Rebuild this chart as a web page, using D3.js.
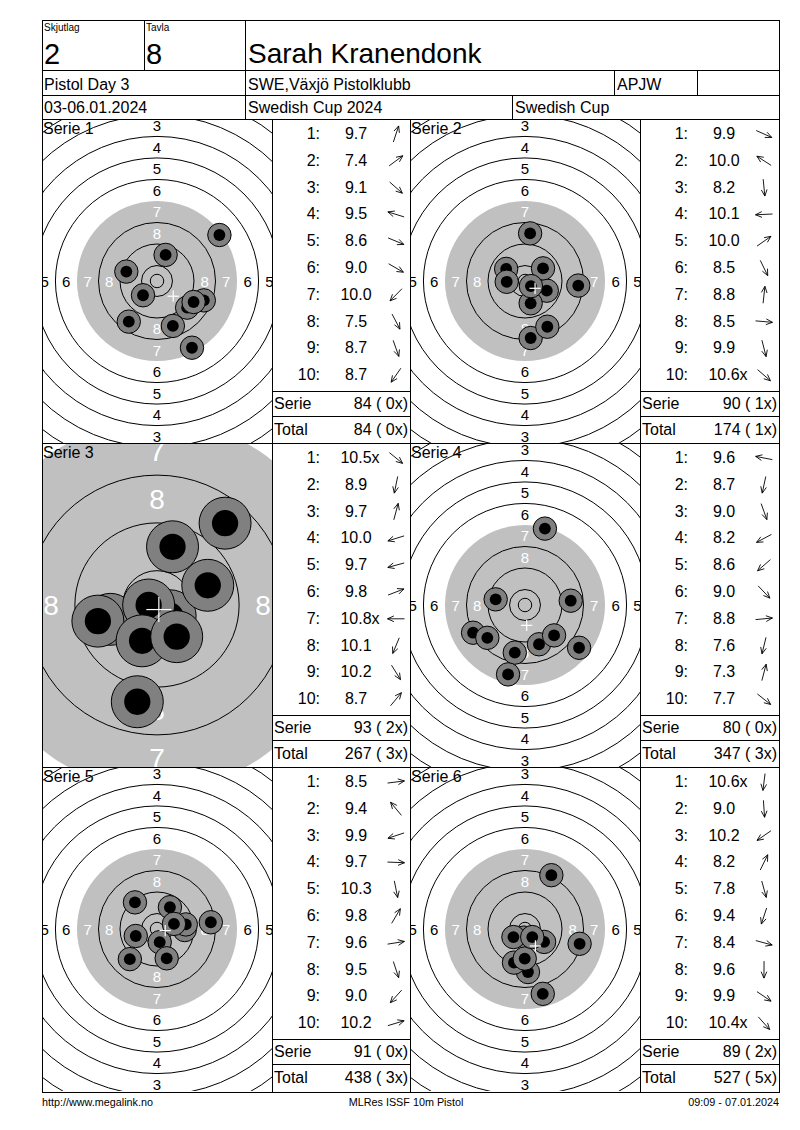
<!DOCTYPE html>
<html><head><meta charset="utf-8">
<script src="https://cdn.jsdelivr.net/npm/d3@7"></script>
<style>
body{margin:0;background:#fff}
text{font-family:"Liberation Sans",Arial,sans-serif;white-space:pre}
</style>
</head><body>
<svg id="c" width="800" height="1130"></svg>
<script>
// ---------- data ----------
const squadLabel = "Skjutlag", squadValue = "2";
const laneLabel = "Tavla", laneValue = "8";
const shooterName = "Sarah Kranendonk";
const eventName = "Pistol Day 3", clubName = "SWE,Växjö Pistolklubb", classCode = "APJW";
const dateText = "03-06.01.2024", competitionName = "Swedish Cup 2024", cupName = "Swedish Cup";
const footerLeft = "http://www.megalink.no", footerMid = "MLRes ISSF 10m Pistol", footerRight = "09:09 - 07.01.2024";

const seriesNames = ["Serie 1","Serie 2","Serie 3","Serie 4","Serie 5","Serie 6"];
const seriesZoom = [1, 1, 2.22, 1, 1, 1];
const shotScores = [
  ["9.7","7.4","9.1","9.5","8.6","9.0","10.0","7.5","8.7","8.7"],
  ["9.9","10.0","8.2","10.1","10.0","8.5","8.8","8.5","9.9","10.6x"],
  ["10.5x","8.9","9.7","10.0","9.7","9.8","10.8x","10.1","10.2","8.7"],
  ["9.6","8.7","9.0","8.2","8.6","9.0","8.8","7.6","7.3","7.7"],
  ["8.5","9.4","9.9","9.7","10.3","9.8","9.6","9.5","9.0","10.2"],
  ["10.6x","9.0","10.2","8.2","7.8","9.4","8.4","9.6","9.9","10.4x"]
];
// shot positions in mm from target centre (x right, y up)
const shotX = [
  [3.2, 23.2, 11.2, -11.4, 17.4, 13.6, -5.2, 13.0, 5.9, -10.5],
  [8.1, -7.0, 2.1, -6.8, 6.7, 8.3, 1.9, 19.8, 2.1, 2.2],
  [2.2, -3.3, 2.6, -7.8, -9.9, 8.5, -1.4, -2.5, 3.3, 11.4],
  [-10.9, -3.8, 5.2, -19.3, -14.0, 10.8, 17.0, -6.3, 7.4, 20.1],
  [20.0, -8.2, -7.9, 10.3, 1.0, 4.8, 10.7, 3.6, -10.1, 6.3],
  [-0.4, 1.1, -4.3, 9.8, 6.6, -4.1, 20.3, -0.1, 7.1, 2.7]
];
const shotY = [
  [9.7, 17.1, -9.9, 3.5, -7.2, -7.8, -5.3, -24.8, -16.7, -15.1],
  [-3.6, 4.5, -21.2, -0.3, 4.7, -17.0, 17.7, -1.7, -8.3, -1.9],
  [-1.8, -16.2, 9.75, -2.4, -2.7, 3.3, 0.0, -6.0, -5.3, 13.7],
  [2.1, -17.7, -14.6, -10.3, -12.2, -11.3, 1.6, -25.8, 28.4, -15.9],
  [2.5, 9.9, -2.6, -0.4, -4.9, 8.1, 1.7, -10.9, -11.2, 1.9],
  [-3.2, -16.0, -3.0, 20.0, -24.1, -12.5, -5.5, -11.0, -4.8, -3.0]
];
const ringNumbers = [1,2,3,4,5,6,7,8,9,10];
const labelRings = [1,2,3,4,5,6,7,8];

// ---------- geometry helpers (ISSF 10m air pistol target, mm) ----------
const ringRadius = n => 5.75 + (10 - n) * 8;
const innerTenR = 2.5, shotOuterR = 4.35, shotInnerR = 2.2, crossArm = 2.1;
const basePxPerMm = 2.69;

const svg = d3.select("#c");
svg.append("rect").attr("width",800).attr("height",1130).attr("fill","#fff");
const defs = svg.append("defs");

const L = 42, R = 779, T = 20, B = 1092;
const lines = svg.append("g").attr("stroke","#000").attr("stroke-width",1).attr("shape-rendering","crispEdges");
function hl(x1,x2,y){ lines.append("line").attr("x1",x1).attr("x2",x2).attr("y1",y+0.5).attr("y2",y+0.5); }
function vl(x,y1,y2){ lines.append("line").attr("x1",x+0.5).attr("x2",x+0.5).attr("y1",y1).attr("y2",y2); }

function txt(sel, s, x, y, size, anchor, fill){
  return sel.append("text").attr("x",x).attr("y",y).attr("font-size",size)
    .attr("text-anchor",anchor||"start").attr("fill",fill||"#000").text(s);
}

// ---------- header ----------
const hdr = svg.append("g");
txt(hdr, squadLabel, 44, 31, 10);
txt(hdr, squadValue, 44, 64, 29);
txt(hdr, laneLabel, 146, 31, 10);
txt(hdr, laneValue, 146, 64, 29);
txt(hdr, shooterName, 248, 63, 28);
txt(hdr, eventName, 44, 90, 16);
txt(hdr, clubName, 248, 90, 16);
txt(hdr, classCode, 617, 90, 16);
txt(hdr, dateText, 44, 113, 16);
txt(hdr, competitionName, 248, 113, 16);
txt(hdr, cupName, 515, 113, 16);

// ---------- panels ----------
const rowH = 324, panelTop = 119;
let cumSum = 0, cumX = 0;
seriesNames.forEach((name, i) => {
  const col = i % 2, row = Math.floor(i / 2);
  const px0 = col ? 410 : 42, W = 230;
  const tx0 = col ? 640 : 272;
  const py0 = panelTop + row * rowH, H = rowH;
  const zoomed = seriesZoom[i] > 1;
  const k = basePxPerMm * seriesZoom[i];
  const x = d3.scaleLinear().domain([-W/2/k, W/2/k]).range([px0, px0 + W]);
  const y = d3.scaleLinear().domain([H/2/k, -H/2/k]).range([py0, py0 + H]);
  const r = d3.scaleLinear().domain([0, 1]).range([0, k]);
  const cx = x(0), cy = y(0);

  defs.append("clipPath").attr("id","clip"+i).append("rect")
    .attr("x",px0).attr("y",py0).attr("width",W+1).attr("height",H);
  const g = svg.append("g").attr("clip-path","url(#clip"+i+")");

  // black aiming area (rings 7-10) shown grey
  const aimR = zoomed ? ringRadius(7) * 1.04 : ringRadius(7);
  g.append("circle").attr("cx",cx).attr("cy",cy).attr("r",r(aimR)).attr("fill","#c0c0c0");
  // ring lines
  g.selectAll("circle.ring").data(ringNumbers.filter(n => n !== 7)).join("circle")
    .attr("class","ring").attr("cx",cx).attr("cy",cy).attr("r",n => r(ringRadius(n)))
    .attr("fill","none").attr("stroke","#000").attr("stroke-width",1);
  g.append("circle").attr("cx",cx).attr("cy",cy).attr("r",r(innerTenR))
    .attr("fill","none").attr("stroke","#000").attr("stroke-width",1);

  // ring numbers (only those that fall inside the panel)
  const fs = zoomed ? 28 : 15;
  const dirs = [[0,1],[0,-1],[-1,0],[1,0]];
  labelRings.forEach(n => {
    const d = (ringRadius(n) + ringRadius(n + 1)) / 2;
    dirs.forEach(([dx, dy]) => {
      const lx = x(dx * d), ly = y(dy * d);
      if (lx < px0 - 3 || lx > px0 + W + 3 || ly < py0 - 3 || ly > py0 + H + 3) return;
      g.append("text").attr("x", lx).attr("y", ly)
        .attr("text-anchor","middle").attr("dominant-baseline","central")
        .attr("font-size", fs).attr("fill", n >= 7 ? "#fff" : "#000").text(n);
    });
  });

  // shots
  const shots = shotScores[i].map((s, j) => ({s, x: shotX[i][j], y: shotY[i][j]}));
  const sg = g.selectAll("g.shot").data(shots).join("g").attr("class","shot");
  sg.append("circle").attr("cx",d => x(d.x)).attr("cy",d => y(d.y)).attr("r",r(shotOuterR))
    .attr("fill","#808080").attr("stroke","#000").attr("stroke-width",1);
  sg.append("circle").attr("cx",d => x(d.x)).attr("cy",d => y(d.y)).attr("r",r(shotInnerR))
    .attr("fill","#000");

  // mean point of impact
  const mx = d3.mean(shots, d => d.x), my = d3.mean(shots, d => d.y);
  g.append("line").attr("x1",x(mx - crossArm)).attr("x2",x(mx + crossArm)).attr("y1",y(my)).attr("y2",y(my))
    .attr("stroke","#fff").attr("stroke-width",1.2);
  g.append("line").attr("x1",x(mx)).attr("x2",x(mx)).attr("y1",y(my - crossArm)).attr("y2",y(my + crossArm))
    .attr("stroke","#fff").attr("stroke-width",1.2);

  txt(g, name, px0 + 1, py0 + 15, 16);

  // ---------- score table ----------
  const t = svg.append("g");
  shots.forEach((d, j) => {
    const rc = py0 + 14 + j * 26.8;
    txt(t, (j + 1) + ":", tx0 + 48, rc + 6, 16, "end");
    const num = d.s.replace("x", "");
    const nt = txt(t, num, tx0 + 84, rc + 6, 16, "middle");
    if (d.s.endsWith("x")) {
      const w = nt.node().getComputedTextLength();
      txt(t, "x", tx0 + 84 + w / 2, rc + 6, 16, "start");
    }
    // direction arrow
    const ang = Math.atan2(-d.y, d.x);
    const ax = tx0 + 124, ay = rc + 1, hl2 = 8.5;
    const x1 = ax - Math.cos(ang) * hl2, y1 = ay - Math.sin(ang) * hl2;
    const x2 = ax + Math.cos(ang) * hl2, y2 = ay + Math.sin(ang) * hl2;
    const ah = 7, aa = 0.42;
    const p = d3.path();
    p.moveTo(x1, y1); p.lineTo(x2, y2);
    p.moveTo(x2 - Math.cos(ang - aa) * ah, y2 - Math.sin(ang - aa) * ah); p.lineTo(x2, y2);
    p.lineTo(x2 - Math.cos(ang + aa) * ah, y2 - Math.sin(ang + aa) * ah);
    t.append("path").attr("d", p.toString()).attr("fill","none").attr("stroke","#000").attr("stroke-width",0.9);
  });
  const serSum = d3.sum(shots, d => Math.floor(parseFloat(d.s)));
  const serX = shots.filter(d => d.s.endsWith("x")).length;
  cumSum += serSum; cumX += serX;
  const fmt = (v, xc) => v + " (" + String(xc).padStart(2, " ") + "x)";
  const tw = col ? 139 : 138;
  hl(tx0, tx0 + tw, py0 + 272);
  hl(tx0, tx0 + tw, py0 + 297);
  txt(t, "Serie", tx0 + 2, py0 + 290, 16);
  txt(t, fmt(serSum, serX), tx0 + tw - 2, py0 + 290, 16, "end").attr("xml:space","preserve");
  txt(t, "Total", tx0 + 2, py0 + 316, 16);
  txt(t, fmt(cumSum, cumX), tx0 + tw - 2, py0 + 316, 16, "end").attr("xml:space","preserve");
});

// ---------- grid ----------
svg.node().appendChild(lines.node());
lines.append("rect").attr("x",L+0.5).attr("y",T+0.5).attr("width",R-L).attr("height",B-T).attr("fill","none");
hl(L, R, 70); hl(L, R, 95); hl(L, R, 119);
vl(144, T, 70); vl(245, T, 119); vl(614, 70, 95); vl(697, 70, 95); vl(512, 95, 119);
hl(L, R, 119 + rowH); hl(L, R, 119 + 2 * rowH);
[272, 410, 640].forEach(xx => vl(xx, 119, B));

// ---------- footer ----------
const ft = svg.append("g");
txt(ft, footerLeft, 42, 1106, 10.8);
txt(ft, footerMid, 406, 1106, 10.8, "middle");
txt(ft, footerRight, 779, 1106, 10.8, "end");
</script>
</body></html>
